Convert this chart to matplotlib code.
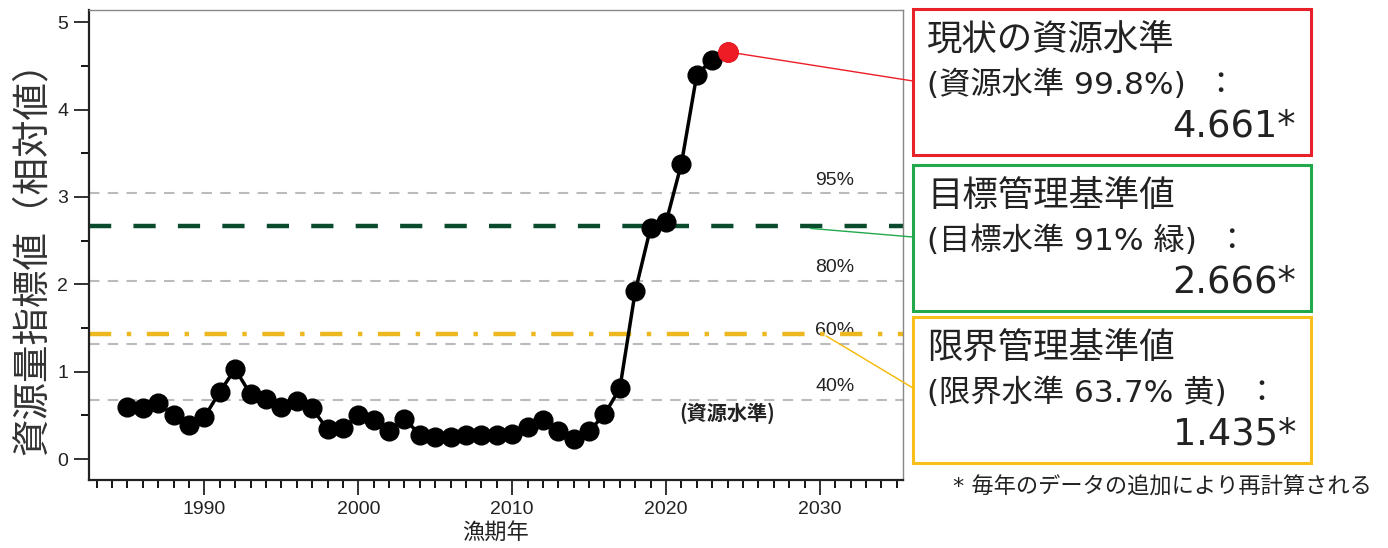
import matplotlib
matplotlib.use("Agg")
import matplotlib.pyplot as plt
from matplotlib.patches import Rectangle, ConnectionPatch
from matplotlib.ticker import MultipleLocator

plt.rcParams['font.family'] = ['Liberation Sans', 'Noto Sans CJK JP', 'DejaVu Sans']
JP = ['Noto Sans CJK JP', 'DejaVu Sans']
BOX = ['DejaVu Sans', 'Noto Sans CJK JP']   # wide latin glyphs like the original

# ---- data ----
years = list(range(1985, 2025))
index_vals = [0.60, 0.58, 0.64, 0.50, 0.39, 0.48, 0.77, 1.03, 0.74, 0.69,
              0.59, 0.66, 0.58, 0.34, 0.35, 0.50, 0.45, 0.32, 0.46, 0.28,
              0.25, 0.25, 0.28, 0.28, 0.28, 0.29, 0.37, 0.45, 0.32, 0.23,
              0.32, 0.51, 0.81, 1.92, 2.65, 2.71, 3.38, 4.40, 4.57, 4.661]
current_year = 2024
current_val = 4.661
target_val = 2.666
limit_val = 1.435
pct_labels = ['95%', '80%', '60%', '40%']
pct_vals = [3.04, 2.04, 1.32, 0.68]

box_titles = ['現状の資源水準', '目標管理基準値', '限界管理基準値']
box_subs = ['(資源水準 99.8%)  ：', '(目標水準 91% 緑)  ：', '(限界水準 63.7% 黄)  ：']
box_nums = ['4.661*', '2.666*', '1.435*']
box_colors = ['#E8202A', '#22A94B', '#F8BE1A']
footnote = '* 毎年のデータの追加により再計算される'

W, H = 1388, 548
fig = plt.figure(figsize=(W / 100, H / 100), dpi=100)
ax = fig.add_axes([89 / W, 1 - 480 / H, (903 - 89) / W, (480 - 10) / H])

# percentile reference lines
for v, lab in zip(pct_vals, pct_labels):
    ax.axhline(v, color='#BBBBBB', lw=1.5, dashes=(5, 4), zorder=1)
    ax.text(2029.7, v + 0.05, lab, fontsize=14, color='#222222', ha='left', va='bottom', zorder=2)

ax.axhline(target_val, color='#0A4B2E', lw=3.2, dashes=(5, 5), zorder=2)
ax.axhline(limit_val, color='#EDB81F', lw=3.2, dashes=(5, 3.5, 1, 3.5), zorder=2)

ax.plot(years, index_vals, color='black', lw=2.5, marker='o', ms=13.5, zorder=4)
ax.plot([current_year], [current_val], marker='o', ms=14, color='#EE1C25', ls='none', zorder=5)

ax.text(2024, 0.52, '(資源水準)', family=JP, fontsize=14.5, fontweight='bold',
        ha='center', va='center', color='#222222')

ax.set_xlim(1982.5, 2035.4)
ax.set_ylim(-0.24, 5.14)
ax.xaxis.set_minor_locator(MultipleLocator(1))
ax.yaxis.set_major_locator(MultipleLocator(1))
ax.yaxis.set_minor_locator(MultipleLocator(0.5))
ax.set_xticks([1990, 2000, 2010, 2020, 2030])
ax.tick_params(axis='both', which='major', direction='out', length=11, width=1.3,
               labelsize=14, colors='#222222', pad=4)
ax.tick_params(axis='both', which='minor', direction='out', length=6, width=1.3)
for s in ['left', 'bottom']:
    ax.spines[s].set_linewidth(1.6)
    ax.spines[s].set_color('#222222')
for s in ['top', 'right']:
    ax.spines[s].set_linewidth(1.0)
    ax.spines[s].set_color('#888888')

ax.set_xlabel('漁期年', family=JP, fontsize=16, color='#222222', labelpad=2)
fig.text(32 / W, 1 - 249 / H, '資源量指標値（相対値）', family=JP, fontsize=27,
         rotation=90, ha='center', va='center', color='#333333')

# annotation boxes on the right
box_tops = [9, 165, 317]
box_h = 146
for i in range(3):
    top = box_tops[i]
    fig.patches.append(Rectangle((913 / W, 1 - (top + box_h) / H), (1311 - 913) / W, box_h / H,
                                 transform=fig.transFigure, fill=False,
                                 edgecolor=box_colors[i], lw=2.2))
    fig.text(927 / W, 1 - (top + 31) / H, box_titles[i], family=JP, fontsize=25.5,
             ha='left', va='center', color='#222222')
    fig.text(927 / W, 1 - (top + 76) / H, box_subs[i], family=BOX, fontsize=22.5,
             ha='left', va='center', color='#222222')
    fig.text(1296 / W, 1 - (top + 117) / H, box_nums[i], family=BOX, fontsize=26.5,
             ha='right', va='center', color='#222222')

fig.text(1372 / W, 1 - 487 / H, footnote, family=BOX, fontsize=16,
         ha='right', va='center', color='#222222')

# connector lines from the chart to the boxes
conns = [((current_year, current_val), (913, 81), '#EE1C25'),
         ((2029.4, 2.64), (913, 237), '#22A94B'),
         ((2030.4, 1.41), (913, 388), '#F5B800')]
for (xa, ya), (px, py), c in conns:
    cp = ConnectionPatch(xyA=(xa, ya), coordsA=ax.transData,
                         xyB=(px / W, 1 - py / H), coordsB=fig.transFigure,
                         color=c, lw=1.0, zorder=3)
    fig.add_artist(cp)

fig.savefig('out.png', dpi=100)
